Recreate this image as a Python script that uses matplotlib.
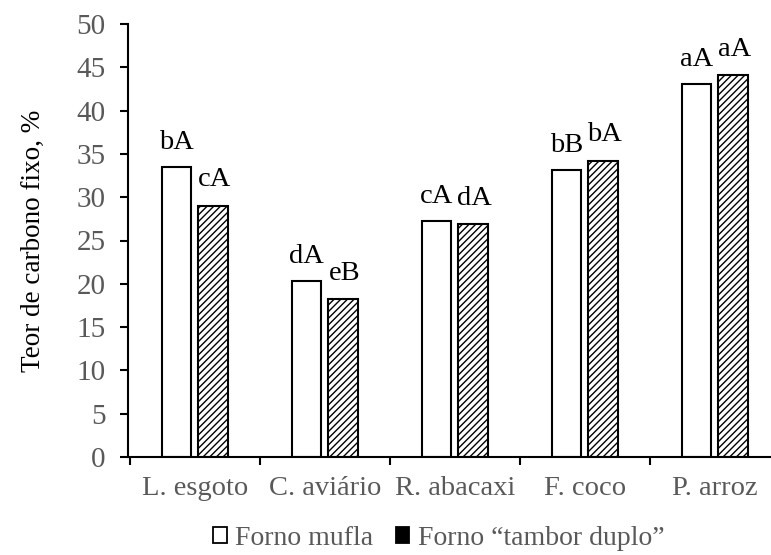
import numpy as np
import matplotlib
matplotlib.use('Agg')
import matplotlib.pyplot as plt
from matplotlib.patches import Patch

plt.rcParams['font.family'] = ['Liberation Serif', 'DejaVu Serif']
plt.rcParams['hatch.linewidth'] = 1.0

# dados
categorias = ['L. esgoto', 'C. aviário', 'R. abacaxi', 'F. coco', 'P. arroz']
forno_mufla = [33.5, 20.3, 27.2, 33.1, 43.1]
forno_tambor = [29.0, 18.2, 26.9, 34.2, 44.1]
letras_mufla = ['bA', 'dA', 'cA', 'bB', 'aA']
letras_tambor = ['cA', 'eB', 'dA', 'bA', 'aA']
series_nomes = ['Forno mufla', 'Forno \u201ctambor duplo\u201d']

cinza = '#595959'
fig = plt.figure(figsize=(7.71, 5.55), dpi=100)
ax = fig.add_axes([128/771, 98/555, 643/771, 433/555])

x = np.arange(len(categorias))
w = 0.23
off = 0.142
b1 = ax.bar(x - off, forno_mufla, w, color='white', edgecolor='black', linewidth=1.5)
b2 = ax.bar(x + off, forno_tambor, w, color='white', edgecolor='black', linewidth=1.5,
            hatch='/////')

for xi, v, t in zip(x - off, forno_mufla, letras_mufla):
    ax.annotate(t, (xi, v), xytext=(0, 13), textcoords='offset points',
                ha='center', va='baseline', fontsize=20.5)
for xi, v, t in zip(x + off, forno_tambor, letras_tambor):
    ax.annotate(t, (xi, v), xytext=(1, 14), textcoords='offset points',
                ha='center', va='baseline', fontsize=20.5)

ax.set_ylim(0, 50)
ax.set_xlim(-0.515, -0.515 + 643/130)
ax.set_yticks(np.arange(0, 51, 5))
ax.set_xticks(x)
ax.set_xticklabels(categorias)
ax.set_xticks(np.arange(-0.5, 4, 1), minor=True)
ax.tick_params(axis='x', which='major', length=0, pad=14, labelsize=20.5, labelcolor=cinza)
ax.tick_params(axis='x', which='minor', length=6, width=1.5, direction='out')
ax.tick_params(axis='y', length=6, width=1.5, pad=10, labelsize=21, labelcolor=cinza)
ax.spines['top'].set_visible(False)
ax.spines['right'].set_visible(False)
ax.spines['left'].set_linewidth(1.5)
ax.spines['bottom'].set_linewidth(1.5)
ax.set_ylabel('Teor de carbono fixo, %', fontsize=19.5, labelpad=22)

handles = [Patch(facecolor='white', edgecolor='black', linewidth=1.3),
           Patch(facecolor='black', edgecolor='black', linewidth=1.3)]
leg = fig.legend(handles, series_nomes, loc='center', bbox_to_anchor=(0.569, 0.03),
                 ncol=2, frameon=False, fontsize=20, handlelength=0.5, handleheight=0.55,
                 handletextpad=0.3, columnspacing=0.8, borderpad=0.1)
for t in leg.get_texts():
    t.set_color(cinza)

fig.savefig('out.png', dpi=100)
